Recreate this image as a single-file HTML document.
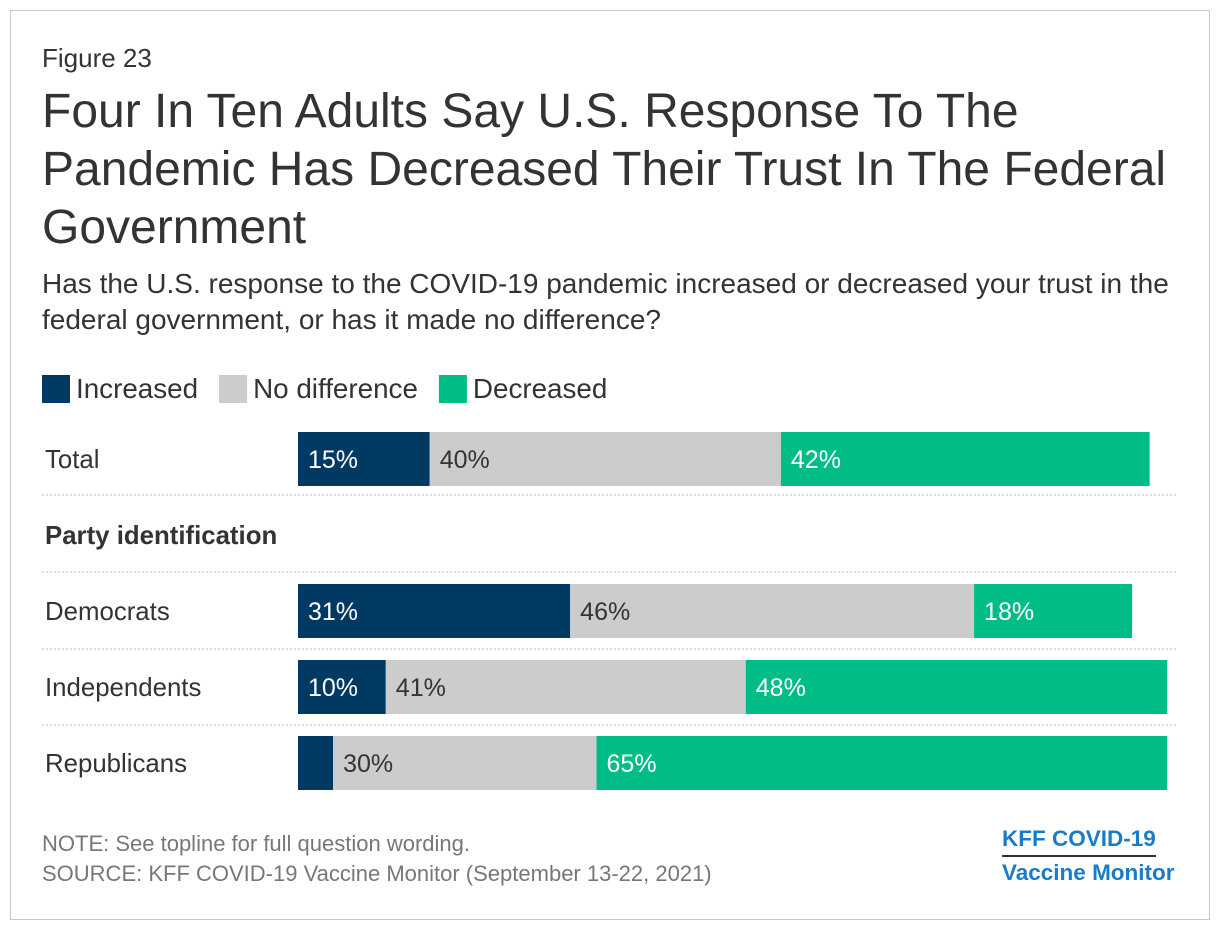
<!DOCTYPE html>
<html><head><meta charset="utf-8"><style>
body{margin:0;background:#fff;font-family:"Liberation Sans",Arial,sans-serif;}
#frame{position:absolute;left:10px;top:10px;width:1198px;height:908px;border:1px solid #c8c8c8;}
.t{position:absolute;color:#333;white-space:nowrap;}
</style></head><body>
<div id="frame"></div>
<div class="t" style="left:42px;top:43px;font-size:26px;">Figure 23</div>
<div class="t" style="left:42px;top:83px;font-size:48px;line-height:58px;color:#333;">Four In Ten Adults Say U.S. Response To The<br>Pandemic Has Decreased Their Trust In The Federal<br>Government</div>
<div class="t" style="left:42px;top:266px;font-size:28px;line-height:36px;color:#333;">Has the U.S. response to the COVID-19 pandemic increased or decreased your trust in the<br>federal government, or has it made no difference?</div>
<svg id="chart" width="1220" height="930" style="position:absolute;left:0;top:0"></svg>
<div class="t" style="left:42px;top:831px;font-size:22px;color:#777;">NOTE: See topline for full question wording.</div>
<div class="t" style="left:42px;top:861px;font-size:22px;color:#777;">SOURCE: KFF COVID-19 Vaccine Monitor (September 13-22, 2021)</div>
<div class="t" style="left:1002px;top:826px;font-size:22.5px;font-weight:bold;color:#1a7bc8;">KFF COVID-19</div>
<div style="position:absolute;left:1002px;top:855px;width:154px;height:2px;background:#333"></div>
<div class="t" style="left:1002px;top:860px;font-size:22.5px;font-weight:bold;color:#1a7bc8;">Vaccine Monitor</div>
<script>
const categories=["Total","Democrats","Independents","Republicans"];
const increased=[15,31,10,4];
const noDifference=[40,46,41,30];
const decreased=[42,18,48,65];
const seriesNames=["Increased","No difference","Decreased"];
const colors=["#003a63","#cccccc","#00bc87"];
const textColors=["#fff","#333","#fff"];
const rowY=[432,584,660,736];
const x0=298,scale=8.78,barH=54;
const svg=document.getElementById('chart');
const NS="http://www.w3.org/2000/svg";
function xPos(v){return x0+v*scale;}
function el(tag,attrs,txt){const e=document.createElementNS(NS,tag);for(const k in attrs)e.setAttribute(k,attrs[k]);if(txt!==undefined)e.textContent=txt;svg.appendChild(e);return e;}
let lx=42;
seriesNames.forEach((n,i)=>{
 const r=el('rect',{x:lx,y:375,width:28,height:28,fill:colors[i]});
 
 
 const t=el('text',{x:lx+34,y:398,'font-size':27.8,fill:'#333','font-family':'Liberation Sans, sans-serif'},n);
 
 
 lx+=34+t.getComputedTextLength()+21;
});
[495,572,649,725].forEach(y=>{
 const l=el('line',{x1:42,x2:1176,y1:y,y2:y,stroke:'#bbb','stroke-width':1,'stroke-dasharray':'2,2'});
 
 
});
const g=el('text',{x:45,y:544,'font-size':25.8,'font-weight':'bold',fill:'#333','font-family':'Liberation Sans, sans-serif'},'Party identification');


const series=[increased,noDifference,decreased];
categories.forEach((c,i)=>{
 const y=rowY[i];
 const lab=el('text',{x:45,y:y+36,'font-size':25.8,fill:'#333','font-family':'Liberation Sans, sans-serif'},c);
 
 
 let cum=0;
 series.forEach((s,j)=>{
  const v=s[i];
  const r=el('rect',{x:xPos(cum),y:y,width:v*scale,height:barH,fill:colors[j]});
  
  
  if(v>=8){
   const t=el('text',{x:xPos(cum)+10,y:y+36,'font-size':25,fill:textColors[j],'font-family':'Liberation Sans, sans-serif'},v+'%');
   
   
  }
  cum+=v;
 });
});
</script>
</body></html>
